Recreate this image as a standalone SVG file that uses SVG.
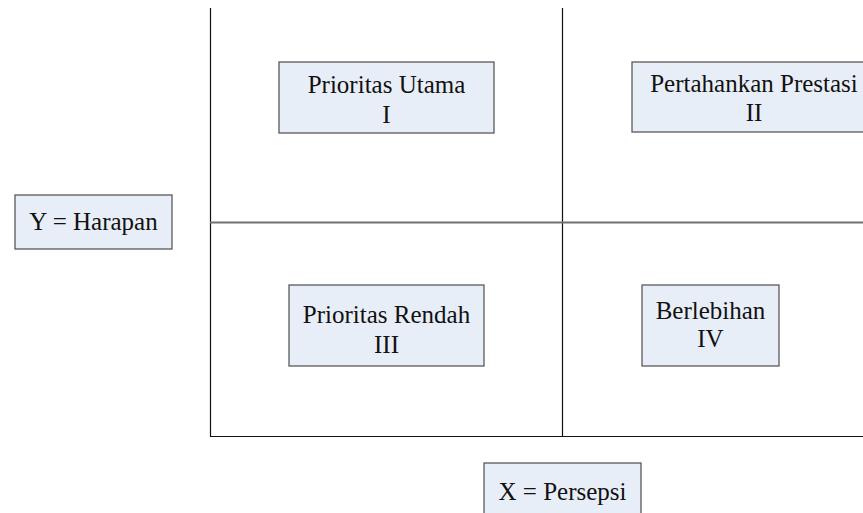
<svg xmlns="http://www.w3.org/2000/svg" width="863" height="513" viewBox="0 0 863 513">
<style>
.box{fill:#e8eef8;stroke:#5a5a5a;stroke-width:1.3}
.t{font-size:25px;fill:#111;text-anchor:middle}
.ax{stroke:#111;stroke-width:1.2;fill:none}
.mid{stroke:#707070;stroke-width:1.8;fill:none}
</style>
<rect width="863" height="513" fill="#fff"/>
<g id="connectors">
<line class="ax" x1="210.5" y1="8" x2="210.5" y2="437"/>
<line class="ax" x1="562.5" y1="8" x2="562.5" y2="437"/>
<line class="ax" x1="210" y1="436.5" x2="863" y2="436.5"/>
<line class="mid" x1="210" y1="222.5" x2="863" y2="222.5"/>
</g>
<g font-family="Liberation Serif, DejaVu Serif, serif">
<g id="y-axis">
<rect class="box" x="15" y="195" width="157" height="54"/>
<text class="t" x="93.5" y="230">Y = Harapan</text>
</g>
<g id="q1">
<rect class="box" x="279" y="62" width="215" height="71"/>
<text class="t" x="386.5" y="92.5">Prioritas Utama</text>
<text class="t" x="386.5" y="122.5">I</text>
</g>
<g id="q2">
<rect class="box" x="632" y="62" width="240" height="70"/>
<text class="t" x="754" y="92">Pertahankan Prestasi</text>
<text class="t" x="754" y="121">II</text>
</g>
<g id="q3">
<rect class="box" x="289" y="285" width="195" height="81"/>
<text class="t" x="386.5" y="322.7">Prioritas Rendah</text>
<text class="t" x="386.5" y="352.7">III</text>
</g>
<g id="q4">
<rect class="box" x="642" y="285" width="137" height="81"/>
<text class="t" x="710.5" y="319.3">Berlebihan</text>
<text class="t" x="710.5" y="346.7">IV</text>
</g>
<g id="x-axis">
<rect class="box" x="484" y="463" width="157" height="60"/>
<text class="t" x="562.5" y="500">X = Persepsi</text>
</g>
</g>
</svg>
